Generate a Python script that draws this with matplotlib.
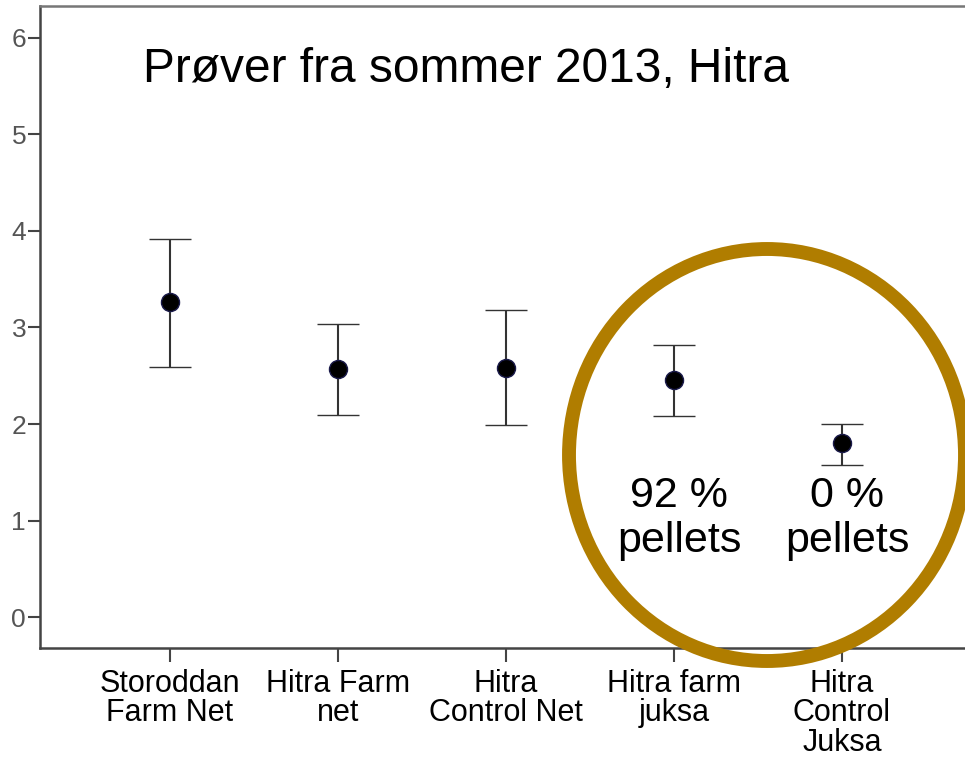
import matplotlib
matplotlib.use("Agg")
import matplotlib.pyplot as plt
from matplotlib.patches import Ellipse

plt.rcParams['font.family'] = ['Liberation Sans', 'DejaVu Sans']

categories = ["Storoddan\nFarm Net", "Hitra Farm\nnet", "Hitra\nControl Net",
              "Hitra farm\njuksa", "Hitra\nControl\nJuksa"]
means = [3.26, 2.57, 2.58, 2.46, 1.80]
upper = [3.92, 3.04, 3.18, 2.82, 2.00]
lower = [2.59, 2.09, 1.99, 2.08, 1.58]
yticks = [0, 1, 2, 3, 4, 5, 6]
title_text = "Prøver fra sommer 2013, Hitra"
notes = [(3, "92 %\npellets"), (4, "0 %\npellets")]

W, H = 965, 758
fig = plt.figure(figsize=(W / 100, H / 100), dpi=100)
# axes: left x=40, top y=6, bottom y=648, right off-figure
left, top, bottom = 40, 6, 648
right = 1010
ax = fig.add_axes([left / W, 1 - bottom / H, (right - left) / W, (bottom - top) / H])

x = list(range(len(categories)))
yerr = [[m - l for m, l in zip(means, lower)], [u - m for m, u in zip(means, upper)]]
ax.errorbar(x, means, yerr=yerr, fmt='o', color='#111111', ecolor='#333333',
            elinewidth=1.5, capsize=15, capthick=1.8, markersize=13,
            markerfacecolor='black', markeredgecolor='#1a1a4a', markeredgewidth=1)

ax.set_ylim(-0.32, 6.33)
# pixel mapping: x=0 at 170px, spacing 168px
ax.set_xlim((left - 170) / 168, (right - 170) / 168)
ax.set_yticks(yticks)
ax.set_xticks(x)
ax.set_xticklabels(categories, fontsize=22, linespacing=0.98)
ax.tick_params(axis='y', direction='out', length=9, width=1.5, color='#444444',
               labelsize=19, labelcolor='#555555', pad=1)
ax.tick_params(axis='x', direction='out', length=10, width=1.5, color='#444444',
               labelcolor='black', pad=5)
for s in ['left', 'bottom', 'top']:
    ax.spines[s].set_color('#444444')
    ax.spines[s].set_linewidth(1.8)
ax.spines['top'].set_color('#777777')
ax.spines['right'].set_visible(False)

fig.text(143 / W, 1 - 82 / H, title_text, fontsize=34.5, color='black', va='baseline')

# annotation circle (in figure pixel coordinates)
circ = Ellipse((767 / W, 1 - 455 / H), 396 / W, 412 / H, transform=fig.transFigure,
               fill=False, edgecolor='#B07D00', linewidth=10, zorder=5)
fig.patches.append(circ)

for xi, txt in notes:
    ax.text(xi + 0.03, 1.02, txt, ha='center', va='center', fontsize=31, linespacing=1.18,
            color='black')

fig.savefig("out.png", dpi=100)
